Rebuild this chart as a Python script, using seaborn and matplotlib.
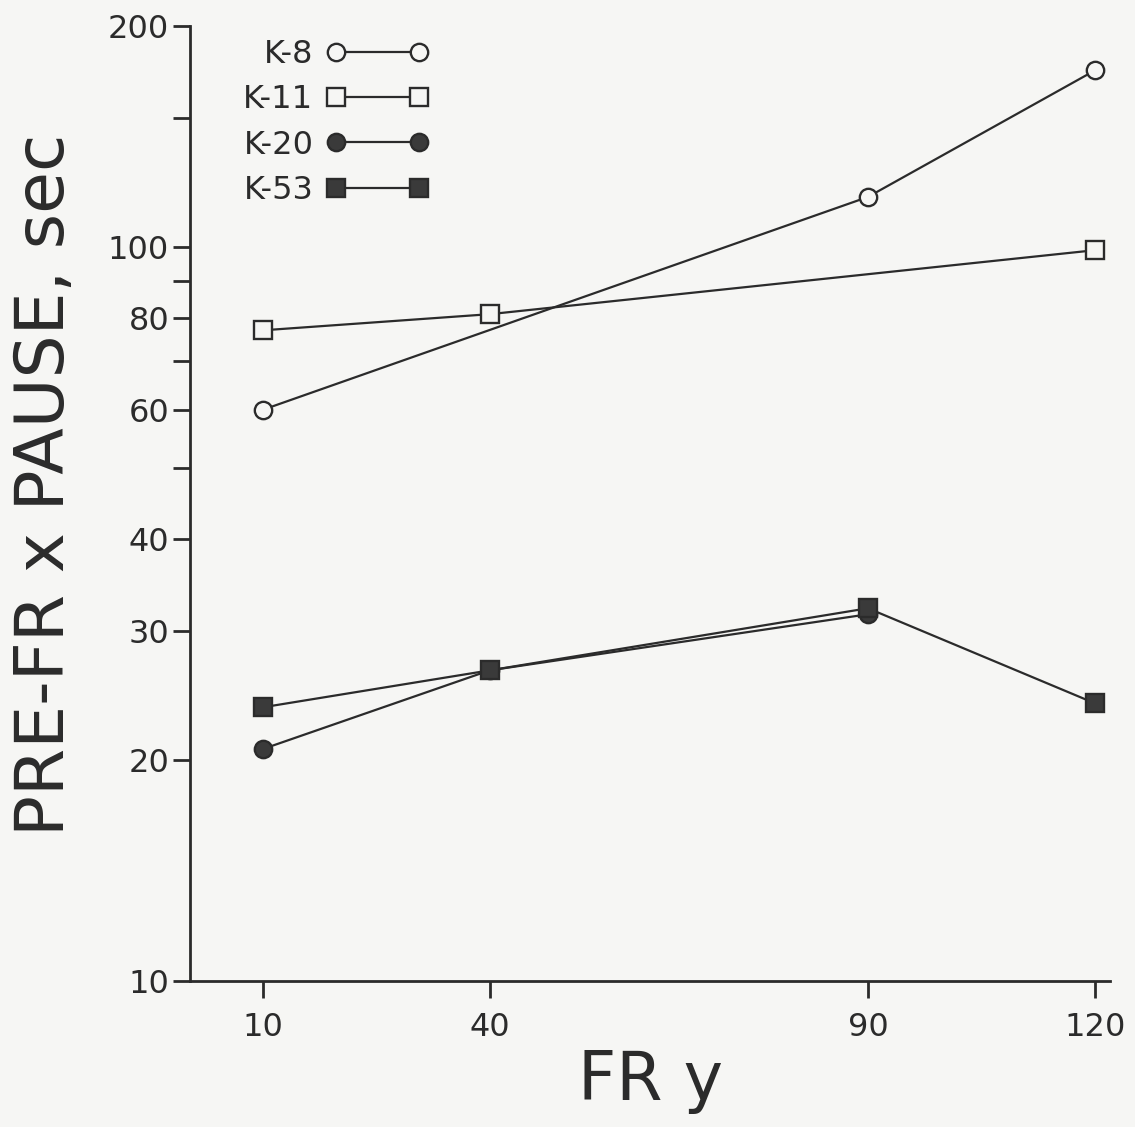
import matplotlib
matplotlib.use("Agg")
import matplotlib.pyplot as plt
import seaborn as sns
import pandas as pd
from matplotlib.ticker import FixedLocator, NullFormatter, FixedFormatter

# ---- data ----
fr_values = [10, 40, 90, 120]
k8 = [60, None, 117, 174]
k11 = [77, 81, None, 99]
k20 = [20.7, 26.5, 31.6, None]
k53 = [23.6, 26.5, 32.2, 23.9]
series_names = ["K-8", "K-11", "K-20", "K-53"]
y_major = [10, 20, 30, 40, 60, 80, 100, 200]
y_minor = [50, 70, 90, 150]
x_ticks = [10, 40, 90, 120]

sns.set_theme(style="ticks")
plt.rcParams['font.family'] = ['DejaVu Sans']
ink = "#2b2b2b"
bg = "#f6f6f4"

fig = plt.figure(figsize=(11.35, 11.27), dpi=100, facecolor=bg)
ax = fig.add_axes([0.1674, 0.1295, 0.8106, 0.8474])
ax.set_facecolor(bg)

rows = []
for name, vals in zip(series_names, [k8, k11, k20, k53]):
    for x, v in zip(fr_values, vals):
        if v is not None:
            rows.append({"FR": x, "pause": v, "bird": name})
df = pd.DataFrame(rows)

styles = {
    "K-8": dict(marker="o", markerfacecolor=bg),
    "K-11": dict(marker="s", markerfacecolor=bg),
    "K-20": dict(marker="o", markerfacecolor="#3a3a3a"),
    "K-53": dict(marker="s", markerfacecolor="#3a3a3a"),
}
handles = []
for name in series_names:
    sub = df[df["bird"] == name]
    before = len(ax.lines)
    sns.lineplot(data=sub, x="FR", y="pause", ax=ax, color=ink, linewidth=1.6,
                 markersize=12.5, markeredgecolor=ink, markeredgewidth=1.7,
                 label=name, legend=False, **styles[name])
    handles.append(ax.lines[before])

ax.set_yscale("log")
ax.set_ylim(10, 200)
ax.set_xlim(0.4, 122)
ax.yaxis.set_major_locator(FixedLocator(y_major))
ax.yaxis.set_major_formatter(FixedFormatter([str(v) for v in y_major]))
ax.yaxis.set_minor_locator(FixedLocator(y_minor))
ax.yaxis.set_minor_formatter(NullFormatter())
ax.set_xticks(x_ticks)
ax.set_xticklabels([str(v) for v in x_ticks])

for s in ["top", "right"]:
    ax.spines[s].set_visible(False)
for s in ["left", "bottom"]:
    ax.spines[s].set_color(ink)
    ax.spines[s].set_linewidth(2.0)

ax.tick_params(axis="y", which="both", length=12, width=2, color=ink,
               labelsize=23, labelcolor=ink, pad=3)
ax.tick_params(axis="x", which="major", length=12, width=2, color=ink,
               labelsize=23, labelcolor=ink, pad=10)

ax.set_xlabel("FR y", fontsize=48, color=ink, labelpad=4)
ax.set_ylabel("PRE-FR x PAUSE, sec", fontsize=49, color=ink)
ax.yaxis.set_label_coords(-0.122, 0.52)

leg = ax.legend(handles=handles, labels=series_names, loc="upper left",
                bbox_to_anchor=(0.044, 1.0), frameon=False, markerfirst=False,
                numpoints=2, handlelength=3.2, fontsize=23, labelspacing=0.45,
                handletextpad=0.4, borderaxespad=0.0)
for t in leg.get_texts():
    t.set_color(ink)

fig.savefig("out.png", dpi=100, facecolor=bg)
